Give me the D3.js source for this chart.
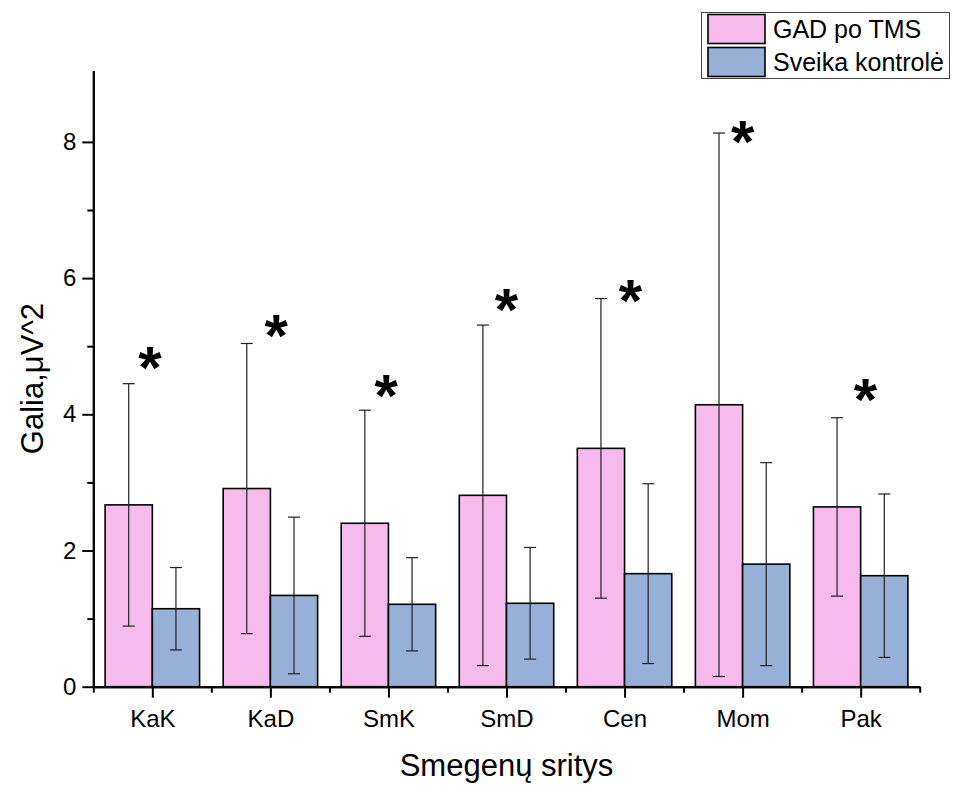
<!DOCTYPE html>
<html>
<head>
<meta charset="utf-8">
<script src="https://cdn.jsdelivr.net/npm/d3@7"></script>
<style>
  body { margin: 0; background: #fff; }
  svg { font-family: Arial, "Liberation Sans", sans-serif; }
</style>
</head>
<body>
<script>
var width = 955;
var height = 785;

// data
var categories = ["KaK", "KaD", "SmK", "SmD", "Cen", "Mom", "Pak"];
var gadMean = [2.67, 2.91, 2.40, 2.81, 3.50, 4.14, 2.64];
var gadSd = [1.78, 2.13, 1.66, 2.50, 2.20, 3.99, 1.31];
var ctrlMean = [1.145, 1.34, 1.21, 1.225, 1.66, 1.80, 1.63];
var ctrlSd = [0.605, 1.15, 0.685, 0.82, 1.32, 1.49, 1.20];
// significance marks: height (value units) and sideways shift (category units)
var starY = [4.80, 5.27, 4.39, 5.65, 5.78, 8.11, 4.33];
var starDx = [-0.02, 0.05, -0.02, 0, 0.05, 0, 0.04];
var yTicks = [0, 2, 4, 6, 8];
var yMinor = [1, 3, 5, 7];
var seriesNames = ["GAD po TMS", "Sveika kontrolė"];
var colors = ["#f6bbec", "#97b0d8"];

var svg = d3.select("body").append("svg")
    .attr("width", width)
    .attr("height", height);

var x = d3.scaleLinear().domain([0.5, 7.5]).range([93.3, 919.7]);
var y = d3.scaleLinear().domain([0, 9.05]).range([686.7, 70.4]);
var half = 0.4;

// bars
var series = [
  { mean: gadMean, sd: gadSd, color: colors[0], off: -half },
  { mean: ctrlMean, sd: ctrlSd, color: colors[1], off: 0 }
];

series.forEach(function(s) {
  svg.append("g").selectAll("rect")
    .data(categories)
    .enter().append("rect")
      .attr("x", function(d, i) { return x(i + 1 + s.off); })
      .attr("y", function(d, i) { return y(s.mean[i]); })
      .attr("width", x(1 + half) - x(1))
      .attr("height", function(d, i) { return y(0) - y(s.mean[i]); })
      .attr("fill", s.color)
      .attr("stroke", "#000")
      .attr("stroke-width", 1.6);
});

// error bars
series.forEach(function(s) {
  var g = svg.append("g").attr("stroke", "#222").attr("stroke-width", 1.2);
  categories.forEach(function(c, i) {
    var cx = x(i + 1 + s.off + half / 2);
    var top = y(s.mean[i] + s.sd[i]);
    var bot = y(s.mean[i] - s.sd[i]);
    g.append("line").attr("x1", cx).attr("x2", cx).attr("y1", top).attr("y2", bot);
    g.append("line").attr("x1", cx - 6).attr("x2", cx + 6).attr("y1", top).attr("y2", top);
    g.append("line").attr("x1", cx - 6).attr("x2", cx + 6).attr("y1", bot).attr("y2", bot);
  });
});

// stars
svg.append("g").selectAll("text")
  .data(categories)
  .enter().append("text")
    .attr("x", function(d, i) { return x(i + 1 + starDx[i]); })
    .attr("y", function(d, i) { return y(starY[i]) + 28; })
    .attr("text-anchor", "middle")
    .attr("font-size", 60)
    .attr("font-weight", "bold")
    .text("*");

// axes
svg.append("g")
    .attr("transform", "translate(0," + y(0) + ")")
    .call(d3.axisBottom(x)
      .tickValues(d3.range(1, 8))
      .tickFormat(function(d) { return categories[d - 1]; })
      .tickSize(11).tickSizeOuter(0).tickPadding(12));
svg.append("g")
    .attr("transform", "translate(0," + y(0) + ")")
    .call(d3.axisBottom(x)
      .tickValues(d3.range(0.5, 8, 1))
      .tickFormat("").tickSize(6).tickSizeOuter(0));

svg.append("g")
    .attr("transform", "translate(" + x(0.5) + ",0)")
    .call(d3.axisLeft(y)
      .tickValues(yTicks)
      .tickSize(11).tickSizeOuter(0).tickPadding(6));
svg.append("g")
    .attr("transform", "translate(" + x(0.5) + ",0)")
    .call(d3.axisLeft(y)
      .tickValues(yMinor)
      .tickFormat("").tickSize(6).tickSizeOuter(0));

svg.selectAll(".domain, .tick line")
    .attr("stroke", "#000")
    .attr("stroke-width", 2);
svg.selectAll(".tick text")
    .attr("font-size", 24)
    .attr("font-family", "Arial, 'Liberation Sans', sans-serif")
    .attr("fill", "#000");

// axis titles
svg.append("text")
    .attr("x", (x(0.5) + x(7.5)) / 2)
    .attr("y", 776)
    .attr("text-anchor", "middle")
    .attr("font-size", 31)
    .text("Smegenų sritys");

svg.append("text")
    .attr("transform", "translate(43," + (y(0) + y(9.05)) / 2 + ") rotate(-90)")
    .attr("text-anchor", "middle")
    .attr("font-size", 31)
    .text("Galia,μV^2");

// legend
var legend = svg.append("g");
legend.append("rect")
    .attr("x", 701.5).attr("y", 12.5)
    .attr("width", 248).attr("height", 66)
    .attr("fill", "#fff")
    .attr("stroke", "#444")
    .attr("stroke-width", 1);
seriesNames.forEach(function(name, i) {
  legend.append("rect")
      .attr("x", 708).attr("y", 14.5 + i * 33)
      .attr("width", 57).attr("height", 29)
      .attr("fill", colors[i])
      .attr("stroke", "#000")
      .attr("stroke-width", 1.6);
  legend.append("text")
      .attr("x", 773).attr("y", 37.5 + i * 33)
      .attr("font-size", 25)
      .text(name);
});
</script>
</body>
</html>
